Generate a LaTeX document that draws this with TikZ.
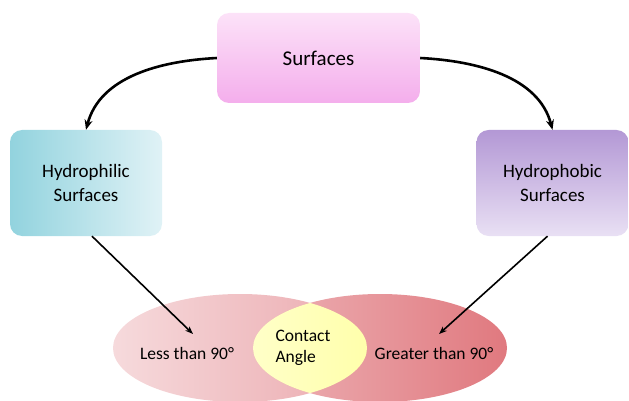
\documentclass[tikz,border=0pt]{standalone}
\usepackage{fontspec}
\setmainfont{Carlito}
\usetikzlibrary{shapes.geometric,arrows.meta,positioning}
\definecolor{surftop}{HTML}{FCE2F8}
\definecolor{surfbot}{HTML}{F4AEEC}
\definecolor{philleft}{HTML}{92D3DE}
\definecolor{philright}{HTML}{E0F2F6}
\definecolor{phobtop}{HTML}{B398D5}
\definecolor{phobbot}{HTML}{E9E0F4}
\definecolor{lessleft}{HTML}{F6DADC}
\definecolor{lessright}{HTML}{EBA9AE}
\definecolor{greatleft}{HTML}{EDB2B6}
\definecolor{greatright}{HTML}{E0797F}
\definecolor{lensleft}{HTML}{FFFFC8}
\definecolor{lensright}{HTML}{FFFF88}
\tikzstyle{split} = [-{Stealth[length=10pt,width=8pt]},line width=2.6pt,black]
\tikzstyle{link} = [-{Stealth[length=8pt,width=6pt]},line width=1.6pt,black]
\tikzset{
  basic box/.style = {
    shape = rectangle,
    rounded corners = 12pt,
    align = center,
    inner sep = 0pt,
    },
  main box/.style = {
    basic box,
    minimum width = 203pt,
    minimum height = 90pt,
    top color = surftop,
    bottom color = surfbot,
    font = \fontsize{21}{24}\selectfont,
    },
  side box/.style = {
    basic box,
    minimum width = 152pt,
    minimum height = 106pt,
    font = \fontsize{19}{24}\selectfont,
    },
  angle oval/.style = {
    ellipse,
    minimum width = 254pt,
    minimum height = 108pt,
    inner sep = 0pt,
    },
  angle text/.style = {
    font = \fontsize{17.5}{21}\selectfont,
    align = left,
    }
}
\begin{document}
\begin{tikzpicture}[x=1pt,y=-1pt]
    \useasboundingbox (0,0) rectangle (629,401);

    % boxes
    \node [main box] (surf) at (318.5,58) {Surfaces};
    \node [side box, left color=philleft, right color=philright] (phil) at (86,183) {Hydrophilic\\Surfaces};
    \node [side box, top color=phobtop, bottom color=phobbot] (phob) at (552.5,183) {Hydrophobic\\Surfaces};

    % contact angle ovals
    \node [angle oval, left color=lessleft, right color=lessright] (lessel) at (240,348) {};
    \node [angle oval, left color=greatleft, right color=greatright] (greatel) at (380,348) {};
    \begin{scope}
        \clip (240,348) ellipse [x radius=127pt, y radius=54pt];
        \shade [left color=lensleft, right color=lensright] (380,348) ellipse [x radius=127pt, y radius=54pt];
    \end{scope}

    \node [angle text] (less) at (187,353) {Less than 90\textdegree};
    \node [angle text] (contact) at (303,348) {Contact\\Angle};
    \node [angle text] (great) at (434,353) {Greater than 90\textdegree};

    \coordinate (lesstip) at (193,334);
    \coordinate (greattip) at (439,334);

    % Paths
    \draw[split] (surf.west) .. controls +(-57,3) and +(14,-53) .. (phil.north);
    \draw[split] (surf.east) .. controls +(57,3) and +(-14,-53) .. (phob.north);
    \draw[link] ([xshift=6pt]phil.south) -- (lesstip);
    \draw[link] ([xshift=-5pt]phob.south) -- (greattip);
\end{tikzpicture}
\end{document}
